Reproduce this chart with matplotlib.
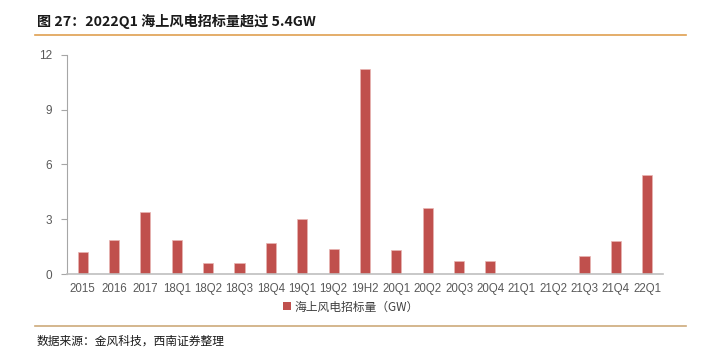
import matplotlib
matplotlib.use("Agg")
import matplotlib.pyplot as plt
from matplotlib.lines import Line2D
from matplotlib.patches import Patch

categories = ["2015", "2016", "2017", "18Q1", "18Q2", "18Q3", "18Q4", "19Q1", "19Q2", "19H2",
              "20Q1", "20Q2", "20Q3", "20Q4", "21Q1", "21Q2", "21Q3", "21Q4", "22Q1"]
values = [1.2, 1.9, 3.4, 1.9, 0.6, 0.6, 1.7, 3.0, 1.4, 11.2,
          1.3, 3.6, 0.7, 0.7, 0, 0, 1.0, 1.8, 5.4]
yticks = [0, 3, 6, 9, 12]
series_name = "海上风电招标量（GW）"
title = "图 27：2022Q1 海上风电招标量超过 5.4GW"
source = "数据来源：金风科技，西南证券整理"

cjk = ["Noto Sans CJK SC", "DejaVu Sans"]
num = ["Liberation Sans", "Noto Sans CJK SC"]

fig = plt.figure(figsize=(7.09, 3.62), dpi=100)
ax = fig.add_axes([0.0945, 0.2423, 0.8405, 0.6067])

bar_color = "#C0504D"
ax.bar(range(len(categories)), values, width=0.32, color=bar_color,
       edgecolor="#E8B4B2", linewidth=0.5)

ax.set_xlim(-0.5, len(categories) - 0.5)
ax.set_ylim(0, 12)
ax.set_yticks(yticks)
ax.set_yticklabels([str(t) for t in yticks], family=num, fontsize=8.5, color="#595959")
ax.set_xticks(range(len(categories)))
ax.set_xticklabels(categories, family=num, fontsize=8.3, color="#595959")
ax.tick_params(axis="x", length=0, pad=6)
ax.tick_params(axis="y", length=4, width=0.8, color="#A6A6A6", pad=6.5, direction="out")
for s in ["top", "right"]:
    ax.spines[s].set_visible(False)
ax.spines["left"].set_color("#A6A6A6")
ax.spines["bottom"].set_color("#BFBFBF")
ax.spines["left"].set_linewidth(0.8)
ax.spines["bottom"].set_linewidth(1.2)

handle = Patch(facecolor=bar_color, edgecolor="none")
fig.legend([handle], [series_name], loc="center", bbox_to_anchor=(0.495, 0.152),
           frameon=False, prop={"family": cjk, "size": 8.5}, handlelength=0.7,
           handleheight=0.7, handletextpad=0.3, labelcolor="#404040")

fig.text(0.052, 0.94, title, family=cjk, fontsize=10.2, fontweight="bold",
         color="#1a1a1a", va="center", ha="left")
fig.add_artist(Line2D([0.05, 0.967], [0.903, 0.903], color="#DFA050", linewidth=1.2,
                      transform=fig.transFigure))
fig.add_artist(Line2D([0.05, 0.967], [0.099, 0.099], color="#CDAA7A", linewidth=1.2,
                      transform=fig.transFigure))
fig.text(0.052, 0.058, source, family=cjk, fontsize=8.5, color="#1a1a1a",
         va="center", ha="left", style="italic")

fig.savefig("out.png", dpi=100)
